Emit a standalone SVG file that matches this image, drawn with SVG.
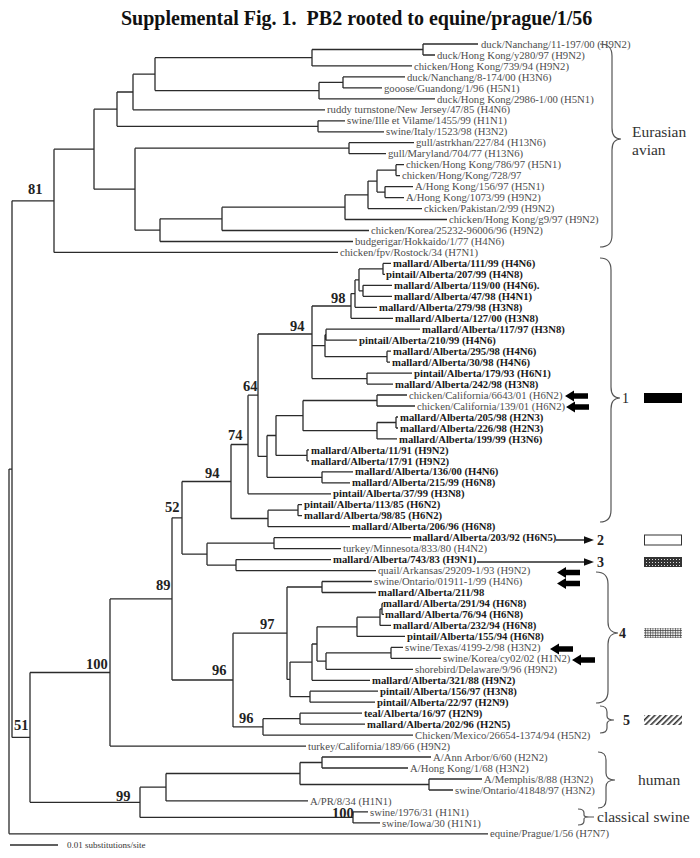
<svg xmlns="http://www.w3.org/2000/svg" width="700" height="858" viewBox="0 0 700 858">
<style>
.e{fill:none;stroke:#2b2b2b;stroke-width:1.3}
.br{fill:none;stroke:#555;stroke-width:1.2}
.t{font-family:"Liberation Serif","Times New Roman",serif;font-size:10.7px;fill:#4d4d4d}
.b{font-family:"Liberation Serif","Times New Roman",serif;font-size:10.7px;font-weight:bold;fill:#1a1a1a}
.bs{font-family:"Liberation Serif","Times New Roman",serif;font-size:14.5px;font-weight:bold;fill:#222}
.g{font-family:"Liberation Serif","Times New Roman",serif;font-size:15.5px;fill:#333}
.n{font-family:"Liberation Serif","Times New Roman",serif;font-size:14px;font-weight:bold;fill:#222}
.n1{font-family:"Liberation Serif","Times New Roman",serif;font-size:14px;fill:#222}
.ti{font-family:"Liberation Serif","Times New Roman",serif;font-size:20px;font-weight:bold;fill:#111}
.sc{font-family:"Liberation Serif","Times New Roman",serif;font-size:9px;fill:#333}
</style>
<defs>
<path id="barrow" d="M0 0 L9 -5.5 L9 -2.8 L23 -2.8 L23 2.8 L9 2.8 L9 5.5 Z" fill="#000"/>
<pattern id="dots" width="3" height="3" patternUnits="userSpaceOnUse"><rect width="3" height="3" fill="#333"/><rect x="1" y="1" width="1" height="1" fill="#ddd"/></pattern>
<pattern id="grid" width="2.5" height="2.5" patternUnits="userSpaceOnUse"><rect width="2.5" height="2.5" fill="#eee"/><path d="M0 0H2.5M0 0V2.5" stroke="#333" stroke-width="1.1"/></pattern>
<pattern id="hatch" width="4" height="4" patternUnits="userSpaceOnUse" patternTransform="rotate(45)"><rect width="4" height="4" fill="#fff"/><rect width="1.6" height="4" fill="#333"/></pattern>
</defs>
<text class="ti" x="121" y="25" xml:space="preserve">Supplemental Fig. 1.  PB2 rooted to equine/prague/1/56</text>
<g id="connectors">
<path class="e" d="M423 44H478 M423 55H435 M312 65.9H412 M343 76.9H405 M343 87.9H382 M319 98.9H435 M133 109.8H325 M318 120.8H345 M318 131.8H384 M349 142.7H414 M349 153.7H386 M396 164.7H404 M396 175.6H400 M385 186.6H413 M385 197.6H404 M368 208.6H422 M345 219.5H447 M222 230.5H369 M160 241.5H353 M54 252.4H338"/>
<path class="e" d="M312 49.5H423 M155 57.7H312 M319 82.4H343 M155 90.6H319 M133 74.2H155 M117 92H133 M117 126.3H318 M94 109.2H117 M135 148.2H349 M377 170.2H396 M377 192.1H385 M368 181.1H377 M345 194.9H368 M222 207.2H345 M160 218.8H222 M135 230.2H160 M94 189.2H135 M54 149.2H94 M12 200.8H54"/>
<path class="e" d="M423 44V55 M312 49.5V65.9 M343 76.9V87.9 M319 82.4V98.9 M155 57.7V90.6 M133 74.2V109.8 M318 120.8V131.8 M117 92V126.3 M349 142.7V153.7 M396 164.7V175.6 M385 186.6V197.6 M377 170.2V192.1 M368 181.1V208.6 M345 194.9V219.5 M222 207.2V230.5 M160 218.8V241.5 M135 148.2V230.2 M94 109.2V189.2 M54 149.2V252.4"/>
<path class="e" d="M383 263.4H391 M383 274.4H385 M363 285.3H392 M363 296.3H392 M355 307.3H377 M351 318.3H393 M326 329.2H420 M326 340.2H357 M387 351.2H391 M387 362.1H390 M367 373.1H412 M367 384.1H393 M377 395H407 M377 406H415 M396 417H398 M396 428H398 M377 438.9H397 M307 449.9H309 M307 460.9H309 M322 471.8H353 M322 482.8H350 M248 493.8H331 M298 504.7H302 M298 515.7H302 M268 526.7H350 M274 537.7H411 M274 548.6H341 M236 559.6H331 M236 570.6H376 M322 581.5H372 M322 592.5H376 M382 603.5H383 M382 614.4H384 M380 625.4H391 M357 636.4H405 M391 647.4H403 M391 658.3H441 M326 669.3H413 M312 680.3H370 M310 691.2H378 M310 702.2H375 M300 713.2H362 M300 724.1H365 M263 735.1H413 M110 746.1H306 M322 757H431 M322 768H408 M429 779H482 M429 790H453 M166 800.9H308 M353 811.9H368 M353 822.9H380 M9 833.8H488"/>
<path class="e" d="M359 268.9H383 M359 290.8H363 M355 279.9H359 M351 293.6H355 M312 306H351 M325 334.7H326 M325 356.7H387 M312 345.7H325 M312 378.6H367 M258 334H312 M303 400.5H377 M377 422.5H396 M303 430.7H377 M276 415.6H303 M276 455.4H307 M267 435.5H276 M267 477.3H322 M258 456.4H267 M248 395.2H258 M231 444.5H248 M268 510.2H298 M231 518.5H268 M182 481.5H231 M207 543.2H274 M207 565.1H236 M182 554.1H207 M172 517.8H182 M287 587H322 M380 609H382 M357 617.2H380 M317 626.8H357 M326 652.9H391 M317 661.1H326 M312 644H317 M290 662.1H312 M290 696.7H310 M287 679.4H290 M233 633.2H287 M263 718.7H300 M233 726.9H263 M172 680H233 M110 598.9H172 M30 672.5H110 M300 762.5H322 M300 784.5H429 M166 773.5H300 M140 787.2H166 M140 817.4H353 M30 802.3H140 M12 737.4H30 M9 469.1H12"/>
<path class="e" d="M383 263.4V274.4 M363 285.3V296.3 M359 268.9V290.8 M355 279.9V307.3 M351 293.6V318.3 M326 329.2V340.2 M387 351.2V362.1 M325 334.7V356.7 M367 373.1V384.1 M312 306V378.6 M377 395V406 M396 417V428 M377 422.5V438.9 M303 400.5V430.7 M307 449.9V460.9 M276 415.6V455.4 M322 471.8V482.8 M267 435.5V477.3 M258 334V456.4 M248 395.2V493.8 M298 504.7V515.7 M268 510.2V526.7 M231 444.5V518.5 M274 537.7V548.6 M236 559.6V570.6 M207 543.2V565.1 M182 481.5V554.1 M322 581.5V592.5 M382 603.5V614.4 M380 609V625.4 M357 617.2V636.4 M391 647.4V658.3 M326 652.9V669.3 M317 626.8V661.1 M312 644V680.3 M310 691.2V702.2 M290 662.1V696.7 M287 587V679.4 M300 713.2V724.1 M263 718.7V735.1 M233 633.2V726.9 M172 517.8V680 M110 598.9V746.1 M322 757V768 M429 779V790 M300 762.5V784.5 M166 773.5V800.9 M353 811.9V822.9 M140 787.2V817.4 M30 672.5V802.3 M12 200.8V737.4 M9 469.1V833.8"/>
<path class="e" d="M556 540H586 M477 562H586"/>
<polygon points="584,536.3 594,540 584,543.7" fill="#111"/>
<polygon points="584,558.3 594,562 584,565.7" fill="#111"/>
</g>
<g id="bootstrap">
<text class="bs" x="28" y="194">81</text>
<text class="bs" x="331" y="303">98</text>
<text class="bs" x="290" y="331">94</text>
<text class="bs" x="243" y="391">64</text>
<text class="bs" x="228" y="440">74</text>
<text class="bs" x="205" y="478">94</text>
<text class="bs" x="165" y="512">52</text>
<text class="bs" x="156" y="590">89</text>
<text class="bs" x="260" y="629">97</text>
<text class="bs" x="212" y="675">96</text>
<text class="bs" x="239" y="723">96</text>
<text class="bs" x="86" y="669">100</text>
<text class="bs" x="14" y="730">51</text>
<text class="bs" x="116" y="801">99</text>
<text class="bs" x="332" y="818">100</text>
</g>
<g id="leaves">
<g id="leaf01"><text class="t" x="481" y="47.6">duck/Nanchang/11-197/00 (H9N2)</text></g>
<g id="leaf02"><text class="t" x="437" y="58.6">duck/Hong Kong/y280/97 (H9N2)</text></g>
<g id="leaf03"><text class="t" x="414" y="69.5">chicken/Hong Kong/739/94 (H9N2)</text></g>
<g id="leaf04"><text class="t" x="407" y="80.5">duck/Nanchang/8-174/00 (H3N6)</text></g>
<g id="leaf05"><text class="t" x="384" y="91.5">gooose/Guandong/1/96 (H5N1)</text></g>
<g id="leaf06"><text class="t" x="437" y="102.5">duck/Hong Kong/2986-1/00 (H5N1)</text></g>
<g id="leaf07"><text class="t" x="327" y="113.4">ruddy turnstone/New Jersey/47/85 (H4N6)</text></g>
<g id="leaf08"><text class="t" x="347" y="124.4">swine/Ille et Vilame/1455/99 (H1N1)</text></g>
<g id="leaf09"><text class="t" x="386" y="135.4">swine/Italy/1523/98 (H3N2)</text></g>
<g id="leaf10"><text class="t" x="416" y="146.3">gull/astrkhan/227/84 (H13N6)</text></g>
<g id="leaf11"><text class="t" x="388" y="157.3">gull/Maryland/704/77 (H13N6)</text></g>
<g id="leaf12"><text class="t" x="406" y="168.3">chicken/Hong Kong/786/97 (H5N1)</text></g>
<g id="leaf13"><text class="t" x="402" y="179.2">chicken/Hong/Kong/728/97</text></g>
<g id="leaf14"><text class="t" x="415" y="190.2">A/Hong Kong/156/97 (H5N1)</text></g>
<g id="leaf15"><text class="t" x="406" y="201.2">A/Hong Kong/1073/99 (H9N2)</text></g>
<g id="leaf16"><text class="t" x="424" y="212.2">ckicken/Pakistan/2/99 (H9N2)</text></g>
<g id="leaf17"><text class="t" x="449" y="223.1">chicken/Hong Kong/g9/97 (H9N2)</text></g>
<g id="leaf18"><text class="t" x="371" y="234.1">chicken/Korea/25232-96006/96 (H9N2)</text></g>
<g id="leaf19"><text class="t" x="355" y="245.1">budgerigar/Hokkaido/1/77 (H4N6)</text></g>
<g id="leaf20"><text class="t" x="340" y="256">chicken/fpv/Rostock/34 (H7N1)</text></g>
<g id="leaf21"><text class="b" x="393" y="267">mallard/Alberta/111/99 (H4N6)</text></g>
<g id="leaf22"><text class="b" x="386" y="278">pintail/Alberta/207/99 (H4N8)</text></g>
<g id="leaf23"><text class="b" x="394" y="288.9">mallard/Alberta/119/00 (H4N6).</text></g>
<g id="leaf24"><text class="b" x="394" y="299.9">mallard/Alberta/47/98 (H4N1)</text></g>
<g id="leaf25"><text class="b" x="379" y="310.9">mallard/Alberta/279/98 (H3N8)</text></g>
<g id="leaf26"><text class="b" x="395" y="321.9">mallard/Alberta/127/00 (H3N8)</text></g>
<g id="leaf27"><text class="b" x="422" y="332.8">mallard/Alberta/117/97 (H3N8)</text></g>
<g id="leaf28"><text class="b" x="359" y="343.8">pintail/Alberta/210/99 (H4N6)</text></g>
<g id="leaf29"><text class="b" x="393" y="354.8">mallard/Alberta/295/98 (H4N6)</text></g>
<g id="leaf30"><text class="b" x="392" y="365.7">mallard/Alberta/30/98 (H4N6)</text></g>
<g id="leaf31"><text class="b" x="414" y="376.7">pintail/Alberta/179/93 (H6N1)</text></g>
<g id="leaf32"><text class="b" x="395" y="387.7">mallard/Alberta/242/98 (H3N8)</text></g>
<g id="leaf33"><text class="t" x="409" y="398.6">chicken/California/6643/01 (H6N2)</text></g>
<g id="leaf34"><text class="t" x="417" y="409.6">chicken/California/139/01 (H6N2)</text></g>
<g id="leaf35"><text class="b" x="400" y="420.6">mallard/Alberta/205/98 (H2N3)</text></g>
<g id="leaf36"><text class="b" x="400" y="431.6">mallard/Alberta/226/98 (H2N3)</text></g>
<g id="leaf37"><text class="b" x="399" y="442.5">mallard/Alberta/199/99 (H3N6)</text></g>
<g id="leaf38"><text class="b" x="311" y="453.5">mallard/Alberta/11/91 (H9N2)</text></g>
<g id="leaf39"><text class="b" x="311" y="464.5">mallard/Alberta/17/91 (H9N2)</text></g>
<g id="leaf40"><text class="b" x="355" y="475.4">mallard/Alberta/136/00 (H4N6)</text></g>
<g id="leaf41"><text class="b" x="352" y="486.4">mallard/Alberta/215/99 (H6N8)</text></g>
<g id="leaf42"><text class="b" x="333" y="497.4">pintail/Alberta/37/99 (H3N8)</text></g>
<g id="leaf43"><text class="b" x="304" y="508.3">pintail/Alberta/113/85 (H6N2)</text></g>
<g id="leaf44"><text class="b" x="304" y="519.3">mallard/Alberta/98/85 (H6N2)</text></g>
<g id="leaf45"><text class="b" x="352" y="530.3">mallard/Alberta/206/96 (H6N8)</text></g>
<g id="leaf46"><text class="b" x="413" y="541.3">mallard/Alberta/203/92 (H6N5)</text></g>
<g id="leaf47"><text class="t" x="343" y="552.2">turkey/Minnesota/833/80 (H4N2)</text></g>
<g id="leaf48"><text class="b" x="333" y="563.2">mallard/Alberta/743/83 (H9N1)</text></g>
<g id="leaf49"><text class="t" x="378" y="574.2">quail/Arkansas/29209-1/93 (H9N2)</text></g>
<g id="leaf50"><text class="t" x="374" y="585.1">swine/Ontario/01911-1/99 (H4N6)</text></g>
<g id="leaf51"><text class="b" x="378" y="596.1">mallard/Alberta/211/98</text></g>
<g id="leaf52"><text class="b" x="383" y="607.1">mallard/Alberta/291/94 (H6N8)</text></g>
<g id="leaf53"><text class="b" x="385" y="618">mallard/Alberta/76/94 (H6N8)</text></g>
<g id="leaf54"><text class="b" x="393" y="629">mallard/Alberta/232/94 (H6N8)</text></g>
<g id="leaf55"><text class="b" x="407" y="640">pintail/Alberta/155/94 (H6N8)</text></g>
<g id="leaf56"><text class="t" x="405" y="651">swine/Texas/4199-2/98 (H3N2)</text></g>
<g id="leaf57"><text class="t" x="443" y="661.9">swine/Korea/cy02/02 (H1N2)</text></g>
<g id="leaf58"><text class="t" x="415" y="672.9">shorebird/Delaware/9/96 (H9N2)</text></g>
<g id="leaf59"><text class="b" x="372" y="683.9">mallard/Alberta/321/88 (H9N2)</text></g>
<g id="leaf60"><text class="b" x="380" y="694.8">pintail/Alberta/156/97 (H3N8)</text></g>
<g id="leaf61"><text class="b" x="377" y="705.8">pintail/Alberta/22/97 (H2N9)</text></g>
<g id="leaf62"><text class="b" x="364" y="716.8">teal/Alberta/16/97 (H2N9)</text></g>
<g id="leaf63"><text class="b" x="367" y="727.7">mallard/Alberta/202/96 (H2N5)</text></g>
<g id="leaf64"><text class="t" x="415" y="738.7">Chicken/Mexico/26654-1374/94 (H5N2)</text></g>
<g id="leaf65"><text class="t" x="308" y="749.7">turkey/California/189/66 (H9N2)</text></g>
<g id="leaf66"><text class="t" x="433" y="760.6">A/Ann Arbor/6/60 (H2N2)</text></g>
<g id="leaf67"><text class="t" x="410" y="771.6">A/Hong Kong/1/68 (H3N2)</text></g>
<g id="leaf68"><text class="t" x="484" y="782.6">A/Memphis/8/88 (H3N2)</text></g>
<g id="leaf69"><text class="t" x="455" y="793.6">swine/Ontario/41848/97 (H3N2)</text></g>
<g id="leaf70"><text class="t" x="310" y="804.5">A/PR/8/34 (H1N1)</text></g>
<g id="leaf71"><text class="t" x="370" y="815.5">swine/1976/31 (H1N1)</text></g>
<g id="leaf72"><text class="t" x="382" y="826.5">swine/Iowa/30 (H1N1)</text></g>
<g id="leaf73"><text class="t" x="490" y="837.4">equine/Prague/1/56 (H7N7)</text></g>
</g>
<g id="markers">
<use href="#barrow" x="565" y="396"/>
<use href="#barrow" x="566" y="407"/>
<use href="#barrow" x="557" y="572.5"/>
<use href="#barrow" x="557" y="583.5"/>
<use href="#barrow" x="550" y="649"/>
<use href="#barrow" x="572" y="660"/>
</g>
<g id="groups">
<path class="br" d="M600 44 C609 44 612 48 612 56 V128 C612 135 615 139 621 139 C615 139 612 143 612 150 V235 C612 243 609 247 600 247"/>
<text class="g" x="632" y="137">Eurasian</text>
<text class="g" x="632" y="155">avian</text>
<path class="br" d="M600 258 C608 258 611 262 611 270 V387 C611 394 614 398 620 398 C614 398 611 402 611 409 V510 C611 518 608 522 600 522"/>
<text class="n1" x="622" y="403">1</text>
<rect x="644" y="393" width="38" height="10" fill="#000"/>
<text class="n" x="597" y="545">2</text>
<rect x="644.5" y="535" width="37" height="10" fill="#fff" stroke="#333" stroke-width="1"/>
<text class="n" x="597" y="567">3</text>
<rect x="644" y="557" width="38" height="10" fill="url(#dots)"/>
<path class="br" d="M596 572 C604 572 608 576 608 584 V622 C608 629 612 633 618 633 C612 633 608 637 608 644 V691 C608 699 604 703 596 703"/>
<text class="n" x="619" y="638">4</text>
<rect x="644" y="628" width="38" height="10" fill="url(#grid)"/>
<path class="br" d="M600 706 C605 706 607 708 607 712 V716 C607 719 610 720 614 720 C610 720 607 721 607 724 V728 C607 731 605 733 600 733"/>
<text class="n" x="623" y="725">5</text>
<rect x="644" y="715" width="38" height="10" fill="url(#hatch)"/>
<path class="br" d="M598 752 C603 752 606 755 606 760 V773 C606 778 610 780 615 780 C610 780 606 782 606 787 V800 C606 805 603 808 598 808"/>
<text class="g" x="638" y="785">human</text>
<path class="br" d="M578 809 C582 809 584 810 584 813 V815 C584 816 586 817 589 817 H594 M589 817 C586 817 584 818 584 819 V821 C584 824 582 825 578 825"/>
<text class="g" x="597" y="822">classical swine</text>
</g>
<g id="scale">
<path class="e" d="M10 845H58"/>
<text class="sc" x="67" y="848">0.01 substitutions/site</text>
</g>
</svg>
